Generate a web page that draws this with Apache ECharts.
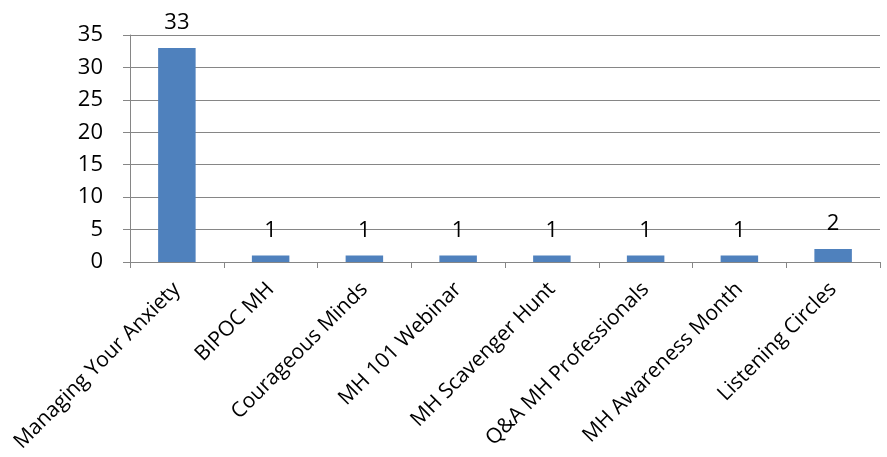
<!DOCTYPE html>
<html><head><meta charset="utf-8">
<script src="https://cdn.jsdelivr.net/npm/echarts@6/dist/echarts.min.js"></script>
<style>html,body{margin:0;padding:0;background:#fff}#c{width:887px;height:457px}</style>
</head><body><div id="c"></div>
<script>
const categories = ["Managing Your Anxiety","BIPOC MH","Courageous Minds","MH 101 Webinar","MH Scavenger Hunt","Q&A MH Professionals","MH Awareness Month","Listening Circles"];
const values = [33,1,1,1,1,1,1,2];
const yTicks = {min:0,max:35,interval:5};
const font = "Open Sans, Liberation Sans, sans-serif";
const chart = echarts.init(document.getElementById('c'));
chart.setOption({
  animation:false,
  grid:{left:130,right:7,top:35,bottom:195,containLabel:false},
  xAxis:{type:'category',data:categories,
    axisLine:{lineStyle:{color:'#868686',width:1}},
    axisTick:{show:true,alignWithLabel:false,length:6,lineStyle:{color:'#868686'}},
    axisLabel:{rotate:45,interval:0,color:'#000',fontSize:21,fontFamily:font,margin:24}},
  yAxis:{type:'value',min:yTicks.min,max:yTicks.max,interval:yTicks.interval,
    axisLine:{show:true,lineStyle:{color:'#868686',width:1}},
    axisTick:{show:true,inside:false,length:7,lineStyle:{color:'#868686'}},
    splitLine:{show:true,lineStyle:{color:'#868686',width:1}},
    axisLabel:{color:'#000',fontSize:22,fontFamily:font,margin:27}},
  series:[{type:'bar',data:values,barWidth:'40%',
    itemStyle:{color:'#4F81BD'},
    label:{show:true,position:'top',color:'#000',fontSize:22,fontFamily:font,distance:14}}]
});
</script></body></html>
